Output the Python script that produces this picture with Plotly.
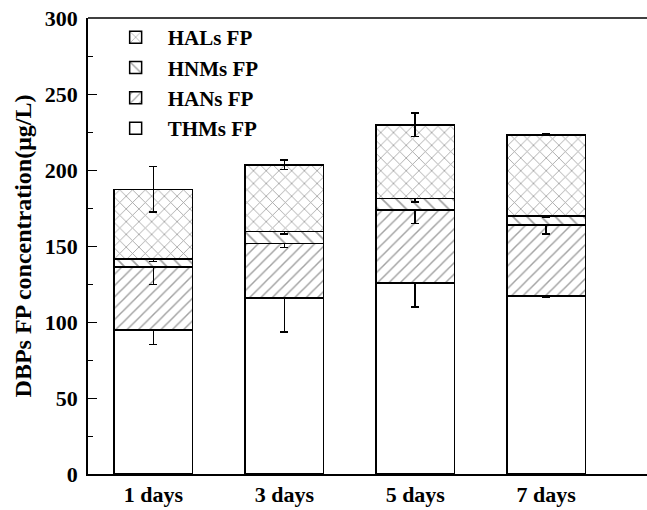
import plotly.graph_objects as go

categories = ["1 days", "3 days", "5 days", "7 days"]
series_names = ["THMs FP", "HANs FP", "HNMs FP", "HALs FP"]
thms = [94.6, 115.9, 125.8, 117.0]
hans = [41.7, 35.8, 47.9, 46.8]
hnms = [5.1, 7.7, 7.7, 5.9]
hals = [45.9, 44.0, 48.3, 53.4]
thms_err = [9.3, 22.6, 16.0, 1.0]
hans_err = [11.6, 2.7, 9.0, 6.0]
hnms_err = [1.5, 1.5, 2.5, 1.0]
hals_err = [15.0, 3.0, 7.7, 0.5]

values = [thms, hans, hnms, hals]
errors = [thms_err, hans_err, hnms_err, hals_err]
patterns = ["", "/", "\\", "x"]
psizes = [8, 8, 10, 9]

FONT = "Times New Roman, Liberation Serif, serif"

fig = go.Figure()
for name, v, e, pat, ps in zip(series_names, values, errors, patterns, psizes):
    fig.add_trace(go.Bar(
        x=categories, y=v, name=name, width=0.6,
        marker=dict(color="white",
                    line=dict(color="black", width=1.5),
                    pattern=dict(shape=pat, fgcolor="#444444", bgcolor="white",
                                 size=ps, solidity=0.18)),
        error_y=dict(type="data", array=e, visible=True, color="black",
                     thickness=1.6, width=4),
    ))

fig.update_layout(
    width=647, height=510,
    barmode="stack",
    plot_bgcolor="white", paper_bgcolor="white",
    margin=dict(l=88, r=0, t=18, b=36, autoexpand=False),
    font=dict(family=FONT, size=22, color="black"),
    showlegend=True,
    legend=dict(x=0.028, y=1.002, xanchor="left", yanchor="top",
                traceorder="reversed", bgcolor="rgba(0,0,0,0)",
                font=dict(family=FONT, size=21, color="black", weight="bold"),
                itemwidth=54, tracegroupgap=0),
    shapes=[dict(type="line", xref="paper", yref="paper", x0=0, x1=1.0, y0=1, y1=1,
                 line=dict(color="black", width=1.6))],
)
fig.update_xaxes(
    type="category", range=[-0.5, 3.77], automargin=False,
    showline=True, linecolor="black", linewidth=1.6, mirror=False,
    ticks="", showgrid=False,
    tickfont=dict(family=FONT, size=22, color="black", weight="bold"),
)
fig.update_yaxes(
    range=[0, 300], dtick=50, tick0=0, automargin=False,
    showline=True, linecolor="black", linewidth=1.6, mirror=False,
    ticks="inside", ticklen=9, tickwidth=1.4, tickcolor="black",
    minor=dict(dtick=25, ticks="inside", ticklen=5, tickwidth=1.2, tickcolor="black"),
    showgrid=False, zeroline=False, ticklabelstandoff=4,
    tickfont=dict(family=FONT, size=22, color="black", weight="bold"),
    title=dict(text="DBPs FP concentration(μg/L)",
               font=dict(family=FONT, size=24, color="black", weight="bold"),
               standoff=6),
)

fig.write_html(
    "out.html", config={"displayModeBar": False},
    post_script=("document.documentElement.style.margin='0';"
                 "document.documentElement.style.overflow='hidden';"
                 "document.body.style.margin='0';document.body.style.overflow='hidden';"))
